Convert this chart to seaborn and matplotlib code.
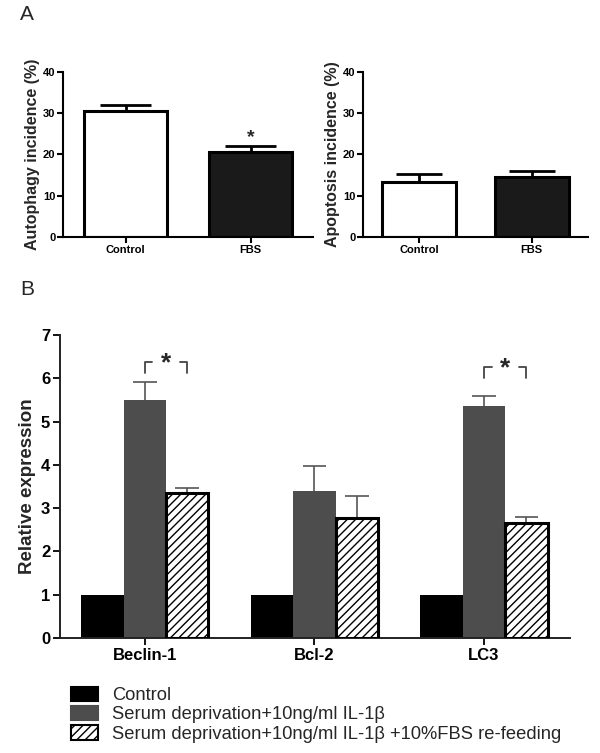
import numpy as np
import pandas as pd
import matplotlib
matplotlib.use("Agg")
import matplotlib.pyplot as plt
import seaborn as sns

# --- Data ---
a_groups = ["Control", "FBS"]
autophagy_mean = [30.5, 20.7]
autophagy_err = [1.5, 1.3]
apoptosis_mean = [13.4, 14.6]
apoptosis_err = [1.8, 1.5]

genes = ["Beclin-1", "Bcl-2", "LC3"]
treatments = [
    "Control",
    "Serum deprivation+10ng/ml IL-1\u03b2",
    "Serum deprivation+10ng/ml IL-1\u03b2 +10%FBS re-feeding",
]
control_vals = [1.0, 1.0, 1.0]
serum_vals = [5.50, 3.40, 5.36]
refeed_vals = [3.36, 2.77, 2.66]
control_err = [0.0, 0.0, 0.0]
serum_err = [0.42, 0.57, 0.24]
refeed_err = [0.11, 0.52, 0.13]

# significance brackets: (gene index, bracket top value)
sig_genes = [0, 2]
sig_top = [6.37, 6.26]

sns.set_style("ticks")
plt.rcParams["font.family"] = ["Liberation Sans", "DejaVu Sans"]
plt.rcParams["hatch.linewidth"] = 1.0

fig = plt.figure(figsize=(6, 7.53), dpi=100)


def upper_errorbar(ax, p, e, cap, color, lw):
    # vertical whisker + cap above a bar (upper error only)
    cx = p.get_x() + p.get_width() / 2
    top = p.get_height()
    ax.vlines(cx, top, top + e, color=color, lw=lw, zorder=1)
    ax.hlines(top + e, cx - cap / 2, cx + cap / 2, color=color, lw=lw, zorder=1)


# --- Panel A ---
def panel_a(rect, means, errs, ylabel, star=None):
    ax = fig.add_axes(rect)
    df = pd.DataFrame({"group": a_groups, "value": means})
    sns.barplot(data=df, x="group", y="value", hue="group",
                palette=["white", "#1a1a1a"], edgecolor="black",
                linewidth=2.2, width=0.66, errorbar=None, legend=False, ax=ax)
    for p, e in zip(ax.patches, errs):
        p.set_zorder(2)
        upper_errorbar(ax, p, e, 0.41, "black", 2.0)
    if star is not None:
        p = ax.patches[1]
        ax.text(p.get_x() + p.get_width() / 2, star, "*", ha="center",
                va="center", fontsize=14, fontweight="bold")
    ax.set_xlim(-0.5, 1.5)
    ax.set_ylim(0, 40)
    ax.set_yticks([0, 10, 20, 30, 40])
    ax.set_xlabel("")
    ax.set_ylabel(ylabel, fontsize=11.5, fontweight="bold", labelpad=2)
    for lbl in ax.get_xticklabels() + ax.get_yticklabels():
        lbl.set_fontweight("bold")
        lbl.set_fontsize(8)
    ax.tick_params(width=1.5, length=4, pad=1.5, colors="black")
    sns.despine(ax=ax)
    for s in ["left", "bottom"]:
        ax.spines[s].set_linewidth(1.5)
        ax.spines[s].set_color("black")
    return ax


panel_a([0.105, 0.6853, 0.4167, 0.2191], autophagy_mean, autophagy_err,
        "Autophagy incidence (%)", star=24.0)
panel_a([0.605, 0.6853, 0.375, 0.2191], apoptosis_mean, apoptosis_err,
        "Apoptosis incidence (%)")

fig.text(0.033, 0.981, "A", fontsize=15, va="center", ha="left")
fig.text(0.033, 0.615, "B", fontsize=15, va="center", ha="left")

# --- Panel B ---
axb = fig.add_axes([0.1, 0.1527, 0.85, 0.4024])
df_b = pd.DataFrame({
    "gene": genes * 3,
    "treatment": [treatments[0]] * 3 + [treatments[1]] * 3 + [treatments[2]] * 3,
    "value": control_vals + serum_vals + refeed_vals,
    "err": control_err + serum_err + refeed_err,
})
colors_b = ["black", "#4d4d4d", "white"]
sns.barplot(data=df_b, x="gene", y="value", hue="treatment",
            palette=colors_b, width=0.75, gap=0,
            errorbar=None, linewidth=0, ax=axb)

bar_patches = axb.patches[:9]
for i, p in enumerate(bar_patches):
    p.set_zorder(2)
    if i >= 6:
        p.set_hatch("////")
        p.set_edgecolor("black")
        p.set_linewidth(2.2)
        p.set_zorder(3)
    else:
        p.set_edgecolor("none")
        p.set_linewidth(0)
    e = df_b["err"].iloc[i]
    if e > 0:
        upper_errorbar(axb, p, e, 0.14, "#555555", 1.2)

# significance brackets between serum and re-feeding bars
for gi, top in zip(sig_genes, sig_top):
    p1 = bar_patches[3 + gi]
    p2 = bar_patches[6 + gi]
    x1 = p1.get_x() + p1.get_width() / 2
    x2 = p2.get_x() + p2.get_width() / 2
    xm = (x1 + x2) / 2
    gap = 0.08
    axb.plot([x1, x1, xm - gap], [top - 0.25, top, top], color="#444444", lw=1.3)
    axb.plot([xm + gap, x2, x2], [top, top, top - 0.25], color="#444444", lw=1.3)
    axb.text(xm, top - 0.03, "*", ha="center", va="center",
             fontsize=19, fontweight="bold")

axb.set_xlim(-0.5, 2.507)
axb.set_ylim(0, 7)
axb.set_yticks(range(0, 8))
axb.set_xlabel("")
axb.set_ylabel("Relative expression", fontsize=13.5, fontweight="bold")
axb.yaxis.set_label_coords(-0.048, 0.5)
for lbl in axb.get_xticklabels():
    lbl.set_fontweight("bold")
    lbl.set_fontsize(12)
for lbl in axb.get_yticklabels():
    lbl.set_fontweight("bold")
    lbl.set_fontsize(12)
axb.tick_params(width=1.3, length=5, pad=2, colors="black")
sns.despine(ax=axb)
for s in ["left", "bottom"]:
    axb.spines[s].set_linewidth(1.4)
    axb.spines[s].set_color("#222222")

handles, labels = axb.get_legend_handles_labels()
axb.get_legend().remove()
for h in handles:
    h.set_edgecolor("black")
    h.set_linewidth(1.5)
handles[1].set_edgecolor("#4d4d4d")
handles[2].set_hatch("////")
fig.legend(handles, labels, loc="upper left", bbox_to_anchor=(0.118, 0.0883),
           frameon=False, fontsize=13.2, handlelength=1.5, handleheight=0.83,
           handletextpad=0.75, labelspacing=0.1, borderaxespad=0,
           borderpad=0)

fig.savefig("out.png", dpi=100)
